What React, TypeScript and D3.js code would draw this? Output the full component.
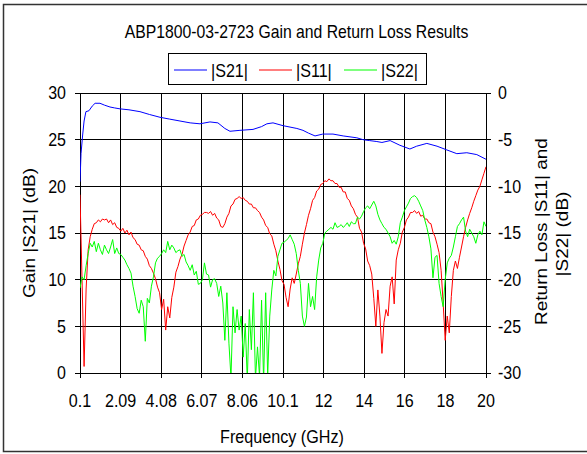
import React from 'react';
import * as d3 from 'd3';

// sweep grid of the analyser: 0.1 GHz to 20 GHz in 0.1 GHz steps
const freqGHz = d3.range(200).map((i) => +(0.1 + i * 0.1).toFixed(1));

// |S11| return loss (dB)
const s11Db = [
  -10.9, -20, -29.3, -21, -16.8, -15.4, -14.6, -14.0, -13.9, -13.6,
  -13.8, -13.5, -13.6, -13.5, -13.9, -13.6, -14.1, -13.9, -14.4, -14.5,
  -14.8, -14.5, -15.0, -14.7, -15.2, -14.9, -15.5, -15.7, -16.2, -16.3,
  -16.8, -16.9, -17.5, -17.8, -18.5, -18.8, -19.3, -19.9, -20.8, -21.4,
  -23.2, -22.1, -25.4, -22.9, -24.1, -21.9, -20.8, -19.2, -18.6, -17.8,
  -17.3, -16.4, -15.8, -15.2, -14.9, -14.3, -14.2, -13.6, -13.5, -13.1,
  -13.0, -12.8, -12.8, -12.9, -12.7, -13.1, -12.9, -13.4, -13.6, -14.3,
  -14.4, -14.0, -13.3, -12.9, -12.1, -11.9, -11.4, -11.3, -11.1, -11.3,
  -11.2, -11.5, -11.6, -11.9, -11.9, -12.3, -12.3, -12.6, -12.8, -13.3,
  -13.6, -14.2, -14.4, -15.1, -15.3, -16.2, -16.9, -18.0, -18.9, -20.1,
  -20.5, -21.9, -22.9, -21.0, -19.8, -20.4, -19.4, -18.3, -17.5, -16.2,
  -15.0, -14.1, -13.1, -12.4, -11.5, -11.2, -10.5, -10.3, -9.8, -9.7,
  -9.4, -9.5, -9.2, -9.4, -9.4, -9.7, -9.7, -10.1, -10.1, -10.6,
  -10.6, -11.3, -11.5, -12.1, -12.4, -13.0, -13.3, -14.5, -14.9, -16.1,
  -16.7, -18.0, -18.5, -19.4, -22.0, -25.0, -21.1, -23.9, -27.9, -24.6,
  -23.2, -23.9, -20.7, -19.7, -22.6, -17.9, -16.8, -16.1, -14.9, -14.4,
  -13.6, -13.3, -12.8, -12.8, -12.6, -12.9, -12.7, -13.2, -13.1, -13.5,
  -13.5, -13.9, -14.0, -14.9, -15.4, -16.2, -17.1, -19.0, -22.5, -26.5,
  -23.9, -25.7, -21.8, -19.0, -18.0, -18.8, -17.6, -16.5, -15.4, -14.4,
  -13.6, -12.9, -12.3, -11.6, -11.0, -10.4, -10.0, -9.3, -8.6, -7.9,
];

// |S22| return loss (dB)
const s22Db = [
  -20.9, -19.7, -20.0, -18.5, -17.2, -16.1, -16.5, -15.9, -17.0, -16.1,
  -16.8, -17.3, -16.3, -16.8, -17.2, -16.5, -15.7, -17.2, -16.6, -17.2,
  -17.3, -17.6, -17.9, -18.4, -18.8, -19.3, -20.7, -21.8, -23.1, -23.6,
  -22.2, -22.9, -26.6, -22.0, -22.5, -20.7, -19.7, -18.2, -17.7, -17.5,
  -17.2, -16.8, -17.1, -15.9, -16.8, -16.3, -16.6, -17.1, -16.9, -16.8,
  -17.5, -17.3, -18.1, -18.5, -19.0, -18.4, -19.5, -19.1, -20.5, -20.4,
  -20.0, -18.2, -19.4, -19.5, -20.8, -20.0, -19.9, -20.4, -21.8, -20.7,
  -22.5, -26.5, -21.4, -26.8, -30.5, -22.9, -25.7, -23.2, -25.4, -23.9,
  -28.3, -24.7, -30.8, -23.2, -27.5, -21.4, -30.6, -27.2, -30.4, -22.2,
  -30.9, -21.4, -30.3, -23.9, -21.1, -19.0, -19.6, -17.5, -16.8, -16.1,
  -16.0, -15.8, -15.6, -15.2, -15.7, -16.2, -17.2, -19.0, -20.4, -23.9,
  -25.0, -24.0, -20.4, -22.9, -21.8, -23.2, -19.7, -17.9, -16.6, -16.1,
  -15.0, -14.8, -14.6, -14.4, -14.6, -13.9, -14.4, -14.3, -14.1, -14.4,
  -14.2, -13.9, -14.3, -13.8, -14.0, -14.0, -13.3, -13.5, -13.2, -12.7,
  -12.3, -12.1, -12.4, -12.0, -11.6, -12.1, -13.0, -13.6, -14.0, -14.4,
  -14.6, -15.0, -15.4, -16.1, -15.8, -16.2, -15.4, -13.9, -13.3, -12.6,
  -12.2, -11.8, -11.3, -11.1, -11.0, -11.2, -11.6, -12.1, -12.6, -13.6,
  -14.4, -15.4, -16.7, -19.8, -17.6, -17.4, -20.4, -21.8, -22.9, -20.0,
  -18.2, -17.7, -17.4, -16.5, -15.4, -14.3, -14.0, -13.6, -13.3, -14.8,
  -15.4, -14.6, -15.0, -15.4, -16.1, -15.2, -14.8, -15.2, -13.8, -14.3,
];

// |S21| gain (dB) at its turning points
const s21Freq = [
  0.1, 0.15, 0.23, 0.3, 0.39, 0.54, 0.7, 0.84, 1.08, 1.3, 1.57, 1.8, 2.06, 2.5, 3.04,
  3.5, 4.02, 4.5, 5.0, 5.5, 5.98, 6.47, 6.86, 7.2, 7.45, 7.94, 8.58, 9.0, 9.26, 9.56,
  10.05, 10.73, 11.03, 11.3, 11.62, 12.0, 12.5, 13.0, 13.67, 13.97, 14.3, 14.65, 14.9,
  15.3, 15.78, 16.27, 16.6, 17.1, 17.6, 18.08, 18.57, 19.06, 19.55, 20.0,
];
const s21Gain = [
  20.5, 23.5, 25.5, 27.0, 28.0, 28.1, 28.6, 28.9, 28.9, 28.7, 28.5, 28.4, 28.3, 28.2, 28.0,
  27.7, 27.4, 27.2, 27.0, 26.8, 26.7, 26.9, 26.8, 26.2, 25.9, 26.0, 26.1, 26.4, 26.7, 26.8,
  26.5, 26.2, 26.0, 25.7, 25.4, 25.6, 25.6, 25.4, 25.2, 25.0, 24.9, 24.8, 24.7,
  24.9, 24.4, 24.0, 24.3, 24.6, 24.3, 23.9, 23.5, 23.6, 23.4, 22.9,
];

const freqTicks = [0.1, 2.09, 4.08, 6.07, 8.06, 10.05, 12.04, 14.03, 16.02, 18.01, 20];
const freqTickLabels = ['0.1', '2.09', '4.08', '6.07', '8.06', '10.1', '12', '14', '16', '18', '20'];
const gainTicks = [0, 5, 10, 15, 20, 25, 30];
const lossTicks = [0, -5, -10, -15, -20, -25, -30];

const seriesNames = ['|S21|', '|S11|', '|S22|'];
const seriesColors = ['#0000ff', '#ff0000', '#00ff00'];

const FONT = '"Liberation Sans", Arial, sans-serif';

export default function App() {
  const width = 587;
  const height = 454;
  const plot = { left: 80, right: 486, top: 93, bottom: 373 };

  const x = d3.scaleLinear().domain([0.1, 20]).range([plot.left, plot.right]);
  const yGain = d3.scaleLinear().domain([0, 30]).range([plot.bottom, plot.top]);
  const yLoss = d3.scaleLinear().domain([-30, 0]).range([plot.bottom, plot.top]);

  const gainLine = d3
    .line<number>()
    .x((_, i) => x(s21Freq[i]))
    .y((d) => yGain(d));
  const lossLine = d3
    .line<number>()
    .x((_, i) => x(freqGHz[i]))
    .y((d) => yLoss(d));

  const paths = [gainLine(s21Gain), lossLine(s11Db), lossLine(s22Db)];

  return (
    <svg
      width={width}
      height={height}
      style={{ position: 'absolute', left: 0, top: 0, background: '#fff' }}
      fontFamily={FONT}
    >
      <rect x={0} y={0} width={width} height={height} fill="#fff" />
      <rect x={3.5} y={4.5} width={620} height={447} fill="none" stroke="#333" strokeWidth={1.5} />

      <text transform="translate(296.5,37.7) scale(0.9,1)" textAnchor="middle" fontSize={17.5} fill="#000">
        ABP1800-03-2723 Gain and Return Loss Results
      </text>

      {/* legend */}
      <rect x={168.5} y={53.5} width={258} height={31} fill="#fff" stroke="#000" strokeWidth={1} />
      {seriesNames.map((name, i) => (
        <g key={name}>
          <line x1={174 + i * 85} x2={207 + i * 85} y1={70} y2={70} stroke={seriesColors[i]} strokeWidth={1.2} />
          <text transform={`translate(${211 + i * 85},77) scale(0.87,1)`} fontSize={18.5} fill="#000">
            {name}
          </text>
        </g>
      ))}

      <defs>
        <clipPath id="plot-clip">
          <rect x={plot.left} y={plot.top} width={plot.right - plot.left} height={plot.bottom - plot.top} />
        </clipPath>
      </defs>

      {/* grid */}
      <g stroke="#000" strokeWidth={1} shapeRendering="crispEdges">
        {gainTicks.map((t) => (
          <line key={'h' + t} x1={plot.left - 5} x2={plot.right + 5} y1={yGain(t)} y2={yGain(t)} />
        ))}
        {freqTicks.map((f) => (
          <line key={'v' + f} x1={x(f)} x2={x(f)} y1={plot.top} y2={plot.bottom + 5} />
        ))}
      </g>

      {/* series */}
      <g clipPath="url(#plot-clip)" fill="none" strokeWidth={1}>
        {paths.map((d, i) => (
          <path key={i} d={d || ''} stroke={seriesColors[i]} strokeLinejoin="round" />
        ))}
      </g>

      {/* left ticks */}
      {gainTicks.map((t) => (
        <text
          key={'gl' + t}
          transform={`translate(66,${yGain(t)}) scale(0.89,1)`}
          dy="0.35em"
          textAnchor="end"
          fontSize={18}
          fill="#000"
        >
          {t}
        </text>
      ))}
      {/* right ticks */}
      {lossTicks.map((t) => (
        <text
          key={'rl' + t}
          transform={`translate(498,${yLoss(t)}) scale(0.89,1)`}
          dy="0.35em"
          textAnchor="start"
          fontSize={18}
          fill="#000"
        >
          {t}
        </text>
      ))}
      {/* bottom ticks */}
      {freqTicks.map((f, i) => (
        <text
          key={'fl' + f}
          transform={`translate(${x(f)},407) scale(0.87,1)`}
          textAnchor="middle"
          fontSize={18.5}
          fill="#000"
        >
          {freqTickLabels[i]}
        </text>
      ))}

      <text transform="translate(282,443) scale(0.85,1)" textAnchor="middle" fontSize={19} fill="#000">
        Frequency (GHz)
      </text>
      <text transform="translate(35,233) scale(0.9,1) rotate(-90)" textAnchor="middle" fontSize={19} fill="#000">
        Gain |S21| (dB)
      </text>
      <text transform="translate(547,231.5) scale(0.9,1) rotate(-90)" textAnchor="middle" fontSize={19} fill="#000">
        Return Loss |S11| and
      </text>
      <text transform="translate(568,234) scale(0.9,1) rotate(-90)" textAnchor="middle" fontSize={19} fill="#000">
        |S22| (dB)
      </text>
    </svg>
  );
}
